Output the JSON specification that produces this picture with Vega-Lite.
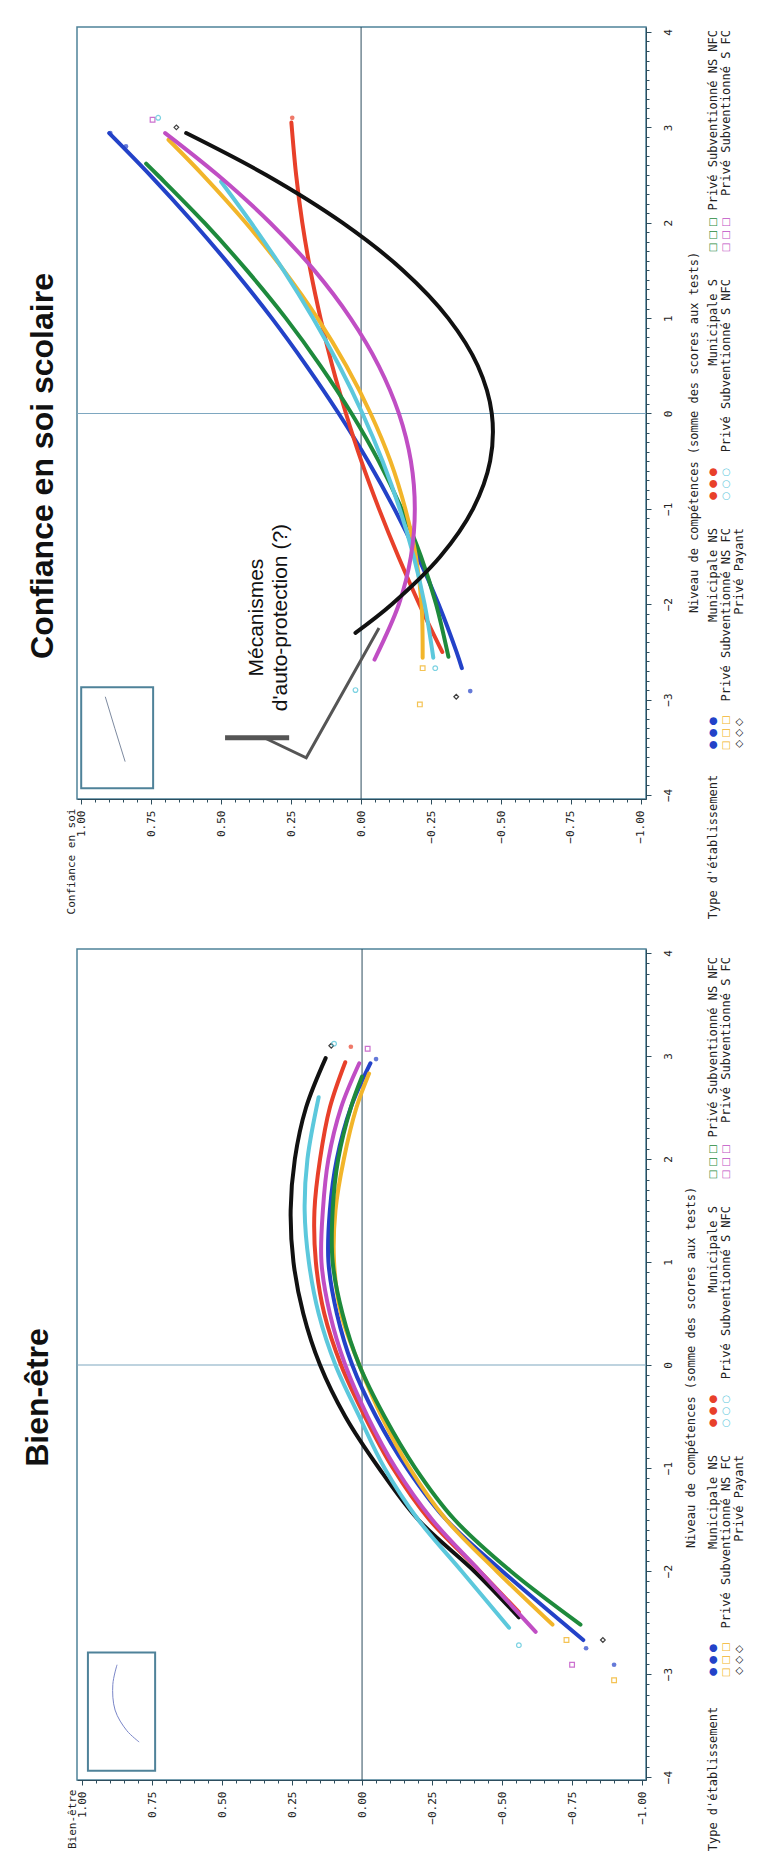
{
  "$schema": "https://vega.github.io/schema/vega-lite/v6.json",
  "autosize": {"type": "none"},
  "padding": {"left": 77, "top": 27, "right": 690, "bottom": 1836},
  "background": "white",
  "config": {
    "view": {"stroke": "#4f8299", "strokeWidth": 1.5},
    "axis": {"grid": false, "domainColor": "#2d4d5d", "tickColor": "#2d4d5d", "labelColor": "#222222", "titleColor": "#222222", "labelFont": "DejaVu Sans Mono", "titleFont": "DejaVu Sans Mono", "labelFontSize": 11, "titleFontSize": 12, "titleFontWeight": "normal", "labelOverlap": false, "labelFlush": false, "labelBound": false},
    "title": {"font": "Liberation Sans", "fontWeight": "bold", "fontSize": 32, "color": "#111111"}
  },
  "datasets": {
    "conf": [
      {"g":"Municipale NS","n":2.94,"v":0.9},{"g":"Municipale NS","n":2.5,"v":0.754},{"g":"Municipale NS","n":2,"v":0.599},{"g":"Municipale NS","n":1.5,"v":0.454},{"g":"Municipale NS","n":1,"v":0.319},{"g":"Municipale NS","n":0.5,"v":0.195},{"g":"Municipale NS","n":0,"v":0.08},{"g":"Municipale NS","n":-0.5,"v":-0.025},{"g":"Municipale NS","n":-1,"v":-0.119},{"g":"Municipale NS","n":-1.5,"v":-0.203},{"g":"Municipale NS","n":-2,"v":-0.277},{"g":"Municipale NS","n":-2.5,"v":-0.341},{"g":"Municipale NS","n":-2.67,"v":-0.36},
      {"g":"Municipale S","n":3.05,"v":0.249},{"g":"Municipale S","n":2.5,"v":0.232},{"g":"Municipale S","n":2,"v":0.21},{"g":"Municipale S","n":1.5,"v":0.181},{"g":"Municipale S","n":1,"v":0.145},{"g":"Municipale S","n":0.5,"v":0.103},{"g":"Municipale S","n":0,"v":0.054},{"g":"Municipale S","n":-0.5,"v":-0.001},{"g":"Municipale S","n":-1,"v":-0.064},{"g":"Municipale S","n":-1.5,"v":-0.133},{"g":"Municipale S","n":-2,"v":-0.208},{"g":"Municipale S","n":-2.5,"v":-0.29},
      {"g":"Privé Subventionné NS NFC","n":2.62,"v":0.768},{"g":"Privé Subventionné NS NFC","n":2.5,"v":0.727},{"g":"Privé Subventionné NS NFC","n":2,"v":0.56},{"g":"Privé Subventionné NS NFC","n":1.5,"v":0.408},{"g":"Privé Subventionné NS NFC","n":1,"v":0.269},{"g":"Privé Subventionné NS NFC","n":0.5,"v":0.145},{"g":"Privé Subventionné NS NFC","n":0,"v":0.034},{"g":"Privé Subventionné NS NFC","n":-0.5,"v":-0.063},{"g":"Privé Subventionné NS NFC","n":-1,"v":-0.145},{"g":"Privé Subventionné NS NFC","n":-1.5,"v":-0.214},{"g":"Privé Subventionné NS NFC","n":-2,"v":-0.268},{"g":"Privé Subventionné NS NFC","n":-2.55,"v":-0.312},
      {"g":"Privé Subventionné NS FC","n":2.87,"v":0.688},{"g":"Privé Subventionné NS FC","n":2.5,"v":0.565},{"g":"Privé Subventionné NS FC","n":2,"v":0.412},{"g":"Privé Subventionné NS FC","n":1.5,"v":0.276},{"g":"Privé Subventionné NS FC","n":1,"v":0.156},{"g":"Privé Subventionné NS FC","n":0.5,"v":0.053},{"g":"Privé Subventionné NS FC","n":0,"v":-0.034},{"g":"Privé Subventionné NS FC","n":-0.5,"v":-0.105},{"g":"Privé Subventionné NS FC","n":-1,"v":-0.158},{"g":"Privé Subventionné NS FC","n":-1.5,"v":-0.196},{"g":"Privé Subventionné NS FC","n":-2,"v":-0.216},{"g":"Privé Subventionné NS FC","n":-2.56,"v":-0.22},
      {"g":"Privé Subventionné S NFC","n":2.43,"v":0.5},{"g":"Privé Subventionné S NFC","n":2,"v":0.393},{"g":"Privé Subventionné S NFC","n":1.5,"v":0.277},{"g":"Privé Subventionné S NFC","n":1,"v":0.172},{"g":"Privé Subventionné S NFC","n":0.5,"v":0.078},{"g":"Privé Subventionné S NFC","n":0,"v":-0.005},{"g":"Privé Subventionné S NFC","n":-0.5,"v":-0.077},{"g":"Privé Subventionné S NFC","n":-1,"v":-0.138},{"g":"Privé Subventionné S NFC","n":-1.5,"v":-0.188},{"g":"Privé Subventionné S NFC","n":-2,"v":-0.227},{"g":"Privé Subventionné S NFC","n":-2.56,"v":-0.258},
      {"g":"Privé Subventionné S FC","n":2.94,"v":0.7},{"g":"Privé Subventionné S FC","n":2.5,"v":0.512},{"g":"Privé Subventionné S FC","n":2,"v":0.325},{"g":"Privé Subventionné S FC","n":1.5,"v":0.167},{"g":"Privé Subventionné S FC","n":1,"v":0.038},{"g":"Privé Subventionné S FC","n":0.5,"v":-0.063},{"g":"Privé Subventionné S FC","n":0,"v":-0.135},{"g":"Privé Subventionné S FC","n":-0.5,"v":-0.178},{"g":"Privé Subventionné S FC","n":-1,"v":-0.192},{"g":"Privé Subventionné S FC","n":-1.5,"v":-0.178},{"g":"Privé Subventionné S FC","n":-2,"v":-0.135},{"g":"Privé Subventionné S FC","n":-2.58,"v":-0.048},
      {"g":"Privé Payant","n":2.94,"v":0.625},{"g":"Privé Payant","n":2.5,"v":0.339},{"g":"Privé Payant","n":2,"v":0.067},{"g":"Privé Payant","n":1.5,"v":-0.15},{"g":"Privé Payant","n":1,"v":-0.311},{"g":"Privé Payant","n":0.5,"v":-0.417},{"g":"Privé Payant","n":0,"v":-0.467},{"g":"Privé Payant","n":-0.5,"v":-0.461},{"g":"Privé Payant","n":-1,"v":-0.4},{"g":"Privé Payant","n":-1.5,"v":-0.283},{"g":"Privé Payant","n":-2,"v":-0.11},{"g":"Privé Payant","n":-2.3,"v":0.02}
    ],
    "bien": [
      {"g":"Privé Payant","n":2.98,"v":0.13},{"g":"Privé Payant","n":2.5,"v":0.2},{"g":"Privé Payant","n":2,"v":0.24},{"g":"Privé Payant","n":1.5,"v":0.255},{"g":"Privé Payant","n":1,"v":0.245},{"g":"Privé Payant","n":0.5,"v":0.21},{"g":"Privé Payant","n":0,"v":0.15},{"g":"Privé Payant","n":-0.5,"v":0.06},{"g":"Privé Payant","n":-1,"v":-0.06},{"g":"Privé Payant","n":-1.5,"v":-0.2},{"g":"Privé Payant","n":-2,"v":-0.4},{"g":"Privé Payant","n":-2.45,"v":-0.56},
      {"g":"Privé Subventionné S NFC","n":2.6,"v":0.155},{"g":"Privé Subventionné S NFC","n":2,"v":0.195},{"g":"Privé Subventionné S NFC","n":1.5,"v":0.205},{"g":"Privé Subventionné S NFC","n":1,"v":0.19},{"g":"Privé Subventionné S NFC","n":0.5,"v":0.155},{"g":"Privé Subventionné S NFC","n":0,"v":0.095},{"g":"Privé Subventionné S NFC","n":-0.5,"v":0.01},{"g":"Privé Subventionné S NFC","n":-1,"v":-0.08},{"g":"Privé Subventionné S NFC","n":-1.5,"v":-0.2},{"g":"Privé Subventionné S NFC","n":-2,"v":-0.355},{"g":"Privé Subventionné S NFC","n":-2.55,"v":-0.525},
      {"g":"Municipale S","n":2.94,"v":0.06},{"g":"Municipale S","n":2.5,"v":0.115},{"g":"Municipale S","n":2,"v":0.15},{"g":"Municipale S","n":1.5,"v":0.17},{"g":"Municipale S","n":1,"v":0.165},{"g":"Municipale S","n":0.5,"v":0.135},{"g":"Municipale S","n":0,"v":0.075},{"g":"Municipale S","n":-0.5,"v":-0.01},{"g":"Municipale S","n":-1,"v":-0.11},{"g":"Municipale S","n":-1.5,"v":-0.24},{"g":"Municipale S","n":-2,"v":-0.42},{"g":"Municipale S","n":-2.4,"v":-0.56},
      {"g":"Privé Subventionné S FC","n":2.93,"v":0.01},{"g":"Privé Subventionné S FC","n":2.5,"v":0.075},{"g":"Privé Subventionné S FC","n":2,"v":0.12},{"g":"Privé Subventionné S FC","n":1.5,"v":0.14},{"g":"Privé Subventionné S FC","n":1,"v":0.145},{"g":"Privé Subventionné S FC","n":0.5,"v":0.115},{"g":"Privé Subventionné S FC","n":0,"v":0.06},{"g":"Privé Subventionné S FC","n":-0.5,"v":-0.02},{"g":"Privé Subventionné S FC","n":-1,"v":-0.12},{"g":"Privé Subventionné S FC","n":-1.5,"v":-0.25},{"g":"Privé Subventionné S FC","n":-2,"v":-0.42},{"g":"Privé Subventionné S FC","n":-2.59,"v":-0.62},
      {"g":"Municipale NS","n":2.93,"v":-0.03},{"g":"Municipale NS","n":2.5,"v":0.04},{"g":"Municipale NS","n":2,"v":0.09},{"g":"Municipale NS","n":1.5,"v":0.115},{"g":"Municipale NS","n":1,"v":0.12},{"g":"Municipale NS","n":0.5,"v":0.09},{"g":"Municipale NS","n":0,"v":0.035},{"g":"Municipale NS","n":-0.5,"v":-0.05},{"g":"Municipale NS","n":-1,"v":-0.16},{"g":"Municipale NS","n":-1.5,"v":-0.3},{"g":"Municipale NS","n":-2,"v":-0.5},{"g":"Municipale NS","n":-2.67,"v":-0.79},
      {"g":"Privé Subventionné NS FC","n":2.83,"v":-0.025},{"g":"Privé Subventionné NS FC","n":2.5,"v":0.02},{"g":"Privé Subventionné NS FC","n":2,"v":0.065},{"g":"Privé Subventionné NS FC","n":1.5,"v":0.095},{"g":"Privé Subventionné NS FC","n":1,"v":0.1},{"g":"Privé Subventionné NS FC","n":0.5,"v":0.075},{"g":"Privé Subventionné NS FC","n":0,"v":0.01},{"g":"Privé Subventionné NS FC","n":-0.5,"v":-0.07},{"g":"Privé Subventionné NS FC","n":-1,"v":-0.17},{"g":"Privé Subventionné NS FC","n":-1.5,"v":-0.3},{"g":"Privé Subventionné NS FC","n":-2,"v":-0.48},{"g":"Privé Subventionné NS FC","n":-2.52,"v":-0.68},
      {"g":"Privé Subventionné NS NFC","n":2.8,"v":0},{"g":"Privé Subventionné NS NFC","n":2.5,"v":0.04},{"g":"Privé Subventionné NS NFC","n":2,"v":0.085},{"g":"Privé Subventionné NS NFC","n":1.5,"v":0.105},{"g":"Privé Subventionné NS NFC","n":1,"v":0.105},{"g":"Privé Subventionné NS NFC","n":0.5,"v":0.07},{"g":"Privé Subventionné NS NFC","n":0,"v":0.01},{"g":"Privé Subventionné NS NFC","n":-0.5,"v":-0.08},{"g":"Privé Subventionné NS NFC","n":-1,"v":-0.19},{"g":"Privé Subventionné NS NFC","n":-1.5,"v":-0.33},{"g":"Privé Subventionné NS NFC","n":-2,"v":-0.53},{"g":"Privé Subventionné NS NFC","n":-2.52,"v":-0.78}
    ],
    "confPts": [
      {"g":"Municipale NS","n":2.94,"v":0.896},{"g":"Municipale NS","n":2.8,"v":0.84},{"g":"Municipale NS","n":-2.91,"v":-0.39},
      {"g":"Municipale S","n":3.1,"v":0.246},
      {"g":"Privé Subventionné S FC","n":3.08,"v":0.745},{"g":"Privé Subventionné S NFC","n":3.1,"v":0.725},
      {"g":"Privé Payant","n":3.0,"v":0.66},{"g":"Privé Payant","n":-2.97,"v":-0.34},
      {"g":"Privé Subventionné NS FC","n":-3.05,"v":-0.21},{"g":"Privé Subventionné NS FC","n":-2.67,"v":-0.22},
      {"g":"Privé Subventionné S NFC","n":-2.9,"v":0.02},{"g":"Privé Subventionné S NFC","n":-2.67,"v":-0.265}
    ],
    "bienPts": [
      {"g":"Privé Payant","n":3.1,"v":0.11},{"g":"Privé Subventionné S NFC","n":3.12,"v":0.1},{"g":"Municipale S","n":3.09,"v":0.04},{"g":"Privé Subventionné S FC","n":3.07,"v":-0.02},{"g":"Municipale NS","n":2.97,"v":-0.05},
      {"g":"Privé Payant","n":-2.67,"v":-0.86},{"g":"Privé Subventionné S FC","n":-2.91,"v":-0.75},{"g":"Municipale NS","n":-2.91,"v":-0.9},{"g":"Privé Subventionné NS FC","n":-3.06,"v":-0.9},{"g":"Privé Subventionné NS FC","n":-2.67,"v":-0.73},{"g":"Privé Subventionné S NFC","n":-2.72,"v":-0.56},{"g":"Municipale NS","n":-2.75,"v":-0.8}
    ],
    "callout": [
      {"s":"bar","i":1,"n":-3.4,"v":0.486},{"s":"bar","i":2,"n":-3.4,"v":0.257},
      {"s":"arrow","i":1,"n":-3.4,"v":0.346},{"s":"arrow","i":2,"n":-3.61,"v":0.196},{"s":"arrow","i":3,"n":-2.25,"v":-0.064}
    ],
    "leg": [
      {"g":"Municipale NS","row":1,"col":1,"glyph":"● ● ●"},
      {"g":"Municipale S","row":1,"col":2,"glyph":"● ● ●"},
      {"g":"Privé Subventionné NS NFC","row":1,"col":3,"glyph":"□ □ □"},
      {"g":"Privé Subventionné NS FC","row":2,"col":1,"glyph":"□ □ □"},
      {"g":"Privé Subventionné S NFC","row":2,"col":2,"glyph":"○ ○ ○"},
      {"g":"Privé Subventionné S FC","row":2,"col":3,"glyph":"□ □ □"},
      {"g":"Privé Payant","row":3,"col":1,"glyph":"◇ ◇ ◇"}
    ]
  },
  "columns": 2,
  "spacing": {"row": 150, "column": 54},
  "bounds": "flush",
  "concat": [
        {
          "width": 569,
          "height": 772,
          "title": {"text": "Confiance en soi scolaire", "orient": "left", "frame": "group", "anchor": "middle", "offset": 17, "baseline": "alphabetic", "dx": -53, "dy": 37},
          "resolve": {"axis": {"x": "independent", "y": "independent"}},
          "layer": [
            {
              "data": {"values": [{"v1": 1.0, "v2": 0.743, "n1": -2.87, "n2": -3.93}]},
              "mark": {"type": "rect", "fill": "white", "stroke": "#4f8299", "strokeWidth": 2},
              "encoding": {
                "x": {"field": "v1", "type": "quantitative", "scale": {"domain": [-1.018, 1.015], "reverse": true, "nice": false, "zero": false},
                  "axis": {"orient": "bottom", "title": "Confiance en soi", "values": [-1,-0.75,-0.5,-0.25,0,0.25,0.5,0.75,1],
                    "format": ".2f", "tickSize": 5, "labelOverlap": false,
                    "labelAngle": 270, "labelAlign": "right", "labelBaseline": "middle", "labelPadding": 6,
                    "titleAngle": 270, "titleAlign": "right", "titleBaseline": "middle", "titleX": -6, "titleY": 9, "titleFontSize": 11}},
                "x2": {"field": "v2"},
                "y": {"field": "n1", "type": "quantitative", "scale": {"domain": [-4.042, 4.052], "nice": false, "zero": false},
                  "axis": {"orient": "right", "title": "Niveau de compétences (somme des scores aux tests)",
                    "values": [-4,-3,-2,-1,0,1,2,3,4], "format": "d", "tickSize": 5, "labelOverlap": false,
                    "labelAngle": 270, "labelAlign": "center", "labelBaseline": "top", "labelPadding": 11,
                    "titleAngle": 270, "titleAlign": "center", "titleBaseline": "middle", "titleX": 47, "titleY": 405}},
                "y2": {"field": "n2"}
              }
            },
            {
              "data": {"values": [{"i":1,"n":-2.97,"v":0.914},{"i":2,"n":-3.3,"v":0.88},{"i":3,"n":-3.65,"v":0.843}]},
              "mark": {"type": "line", "color": "#7d8aa0", "strokeWidth": 1},
              "encoding": {"x": {"field": "v", "type": "quantitative", "scale": {"domain": [-1.018, 1.015], "reverse": true, "nice": false, "zero": false}, "axis": null}, "y": {"field": "n", "type": "quantitative", "scale": {"domain": [-4.042, 4.052], "nice": false, "zero": false}, "axis": null}, "order": {"field": "i"}}
            },
            {
              "data": {"values": [{}]},
              "mark": {"type": "rule", "color": "#2d4d5d", "strokeWidth": 1},
              "encoding": {"x": {"datum": 0, "type": "quantitative", "scale": {"domain": [-1.018, 1.015], "reverse": true, "nice": false, "zero": false},
                "axis": {"orient": "bottom", "title": null, "labels": false, "domain": false, "tickSize": 3, "values": [-1,-0.95,-0.9,-0.85,-0.8,-0.75,-0.7,-0.65,-0.6,-0.55,-0.5,-0.45,-0.4,-0.35,-0.3,-0.25,-0.2,-0.15,-0.1,-0.05,0,0.05,0.1,0.15,0.2,0.25,0.3,0.35,0.4,0.45,0.5,0.55,0.6,0.65,0.7,0.75,0.8,0.85,0.9,0.95,1]}}}
            },
            {
              "data": {"values": [{}]},
              "mark": {"type": "rule", "color": "#7ea7c0", "strokeWidth": 1.2},
              "encoding": {"y": {"datum": 0, "type": "quantitative", "scale": {"domain": [-4.042, 4.052], "nice": false, "zero": false},
                "axis": {"orient": "right", "title": null, "labels": false, "domain": false, "tickSize": 3, "values": [-4,-3.9,-3.8,-3.7,-3.6,-3.5,-3.4,-3.3,-3.2,-3.1,-3,-2.9,-2.8,-2.7,-2.6,-2.5,-2.4,-2.3,-2.2,-2.1,-2,-1.9,-1.8,-1.7,-1.6,-1.5,-1.4,-1.3,-1.2,-1.1,-1,-0.9,-0.8,-0.7,-0.6,-0.5,-0.4,-0.3,-0.2,-0.1,0,0.1,0.2,0.3,0.4,0.5,0.6,0.7,0.8,0.9,1,1.1,1.2,1.3,1.4,1.5,1.6,1.7,1.8,1.9,2,2.1,2.2,2.3,2.4,2.5,2.6,2.7,2.8,2.9,3,3.1,3.2,3.3,3.4,3.5,3.6,3.7,3.8,3.9,4]}}}
            },
            {
              "data": {"name": "conf"},
              "mark": {"type": "line", "strokeWidth": 4, "interpolate": "catmull-rom", "strokeCap": "round"},
              "encoding": {
                "x": {"field": "v", "type": "quantitative", "scale": {"domain": [-1.018, 1.015], "reverse": true, "nice": false, "zero": false}, "axis": null},
                "y": {"field": "n", "type": "quantitative", "scale": {"domain": [-4.042, 4.052], "nice": false, "zero": false}, "axis": null},
                "color": {"field": "g", "type": "nominal", "legend": null, "scale": {"domain": ["Municipale NS","Municipale S","Privé Subventionné NS NFC","Privé Subventionné NS FC","Privé Subventionné S NFC","Privé Subventionné S FC","Privé Payant"], "range": ["#2342c8","#e8402a","#1e8a3c","#f2b52a","#5cc8dc","#c04ec4","#111111"]}},
                "order": {"field": "n", "type": "quantitative"}
              }
            },
            {
              "data": {"name": "confPts"},
              "transform": [{"filter": "indexof(datum.g,'Municipale')==0"}],
              "mark": {"type": "point", "filled": true, "size": 22, "shape": "circle"},
              "encoding": {
                "x": {"field": "v", "type": "quantitative", "scale": {"domain": [-1.018, 1.015], "reverse": true, "nice": false, "zero": false}, "axis": null},
                "y": {"field": "n", "type": "quantitative", "scale": {"domain": [-4.042, 4.052], "nice": false, "zero": false}, "axis": null},
                "color": {"field": "g", "type": "nominal", "legend": null, "scale": {"domain": ["Municipale NS","Municipale S","Privé Subventionné NS NFC","Privé Subventionné NS FC","Privé Subventionné S NFC","Privé Subventionné S FC","Privé Payant"], "range": ["#2342c8","#e8402a","#1e8a3c","#f2b52a","#5cc8dc","#c04ec4","#111111"]}}
              }
            },
            {
              "data": {"name": "confPts"},
              "transform": [{"filter": "indexof(datum.g,'Municipale')!=0"}],
              "mark": {"type": "point", "filled": false, "size": 22, "strokeWidth": 1.2, "opacity": 0.8},
              "encoding": {
                "x": {"field": "v", "type": "quantitative", "scale": {"domain": [-1.018, 1.015], "reverse": true, "nice": false, "zero": false}, "axis": null},
                "y": {"field": "n", "type": "quantitative", "scale": {"domain": [-4.042, 4.052], "nice": false, "zero": false}, "axis": null},
                "shape": {"field": "g", "type": "nominal", "legend": null, "scale": {"domain": ["Privé Subventionné NS NFC","Privé Subventionné NS FC","Privé Subventionné S NFC","Privé Subventionné S FC","Privé Payant"], "range": ["square","square","circle","square","diamond"]}},
                "color": {"field": "g", "type": "nominal", "legend": null, "scale": {"domain": ["Municipale NS","Municipale S","Privé Subventionné NS NFC","Privé Subventionné NS FC","Privé Subventionné S NFC","Privé Subventionné S FC","Privé Payant"], "range": ["#2342c8","#e8402a","#1e8a3c","#f2b52a","#5cc8dc","#c04ec4","#111111"]}}
              }
            },
            {
              "data": {"name": "callout"},
              "transform": [{"filter": "datum.s=='bar'"}],
              "mark": {"type": "line", "color": "#555555", "strokeWidth": 5},
              "encoding": {
                "x": {"field": "v", "type": "quantitative", "scale": {"domain": [-1.018, 1.015], "reverse": true, "nice": false, "zero": false}, "axis": null},
                "y": {"field": "n", "type": "quantitative", "scale": {"domain": [-4.042, 4.052], "nice": false, "zero": false}, "axis": null},
                "order": {"field": "i"}
              }
            },
            {
              "data": {"name": "callout"},
              "transform": [{"filter": "datum.s=='arrow'"}],
              "mark": {"type": "line", "color": "#555555", "strokeWidth": 3},
              "encoding": {
                "x": {"field": "v", "type": "quantitative", "scale": {"domain": [-1.018, 1.015], "reverse": true, "nice": false, "zero": false}, "axis": null},
                "y": {"field": "n", "type": "quantitative", "scale": {"domain": [-4.042, 4.052], "nice": false, "zero": false}, "axis": null},
                "order": {"field": "i"}
              }
            },
            {
              "data": {"values": [{"v": 0.371, "n": -2.14, "t": ["Mécanismes", "d'auto-protection (?)"]}]},
              "mark": {"type": "text", "angle": 270, "align": "center", "baseline": "middle", "font": "Liberation Sans", "fontSize": 21, "lineHeight": 24, "color": "#111111"},
              "encoding": {
                "x": {"field": "v", "type": "quantitative", "scale": {"domain": [-1.018, 1.015], "reverse": true, "nice": false, "zero": false}, "axis": null},
                "y": {"field": "n", "type": "quantitative", "scale": {"domain": [-4.042, 4.052], "nice": false, "zero": false}, "axis": null},
                "text": {"field": "t"}
              }
            }
          ]
        },
        {
          "width": 39,
          "height": 772,
          "view": {"stroke": null},
          "data": {"name": "leg"},
          "layer": [
            {
              "mark": {"type": "text", "angle": 270, "align": "center", "baseline": "middle", "font": "DejaVu Sans", "fontSize": 10},
              "encoding": {
                "x": {"field": "row", "type": "quantitative", "scale": {"domain": [0, 3], "nice": false, "zero": false}, "axis": null},
                "y": {"field": "col", "type": "quantitative", "scale": {"domain": [0.735, 3.835], "nice": false, "zero": false}, "axis": null},
                "text": {"field": "glyph"},
                "color": {"field": "g", "type": "nominal", "legend": null, "scale": {"domain": ["Municipale NS","Municipale S","Privé Subventionné NS NFC","Privé Subventionné NS FC","Privé Subventionné S NFC","Privé Subventionné S FC","Privé Payant"], "range": ["#2342c8","#e8402a","#1e8a3c","#f2b52a","#5cc8dc","#c04ec4","#111111"]}}
              }
            },
            {
              "mark": {"type": "text", "angle": 270, "align": "right", "baseline": "middle", "dx": 205, "font": "DejaVu Sans Mono", "fontSize": 12, "color": "#222222"},
              "encoding": {
                "x": {"field": "row", "type": "quantitative", "scale": {"domain": [0, 3], "nice": false, "zero": false}, "axis": null},
                "y": {"field": "col", "type": "quantitative", "scale": {"domain": [0.735, 3.835], "nice": false, "zero": false}, "axis": null},
                "text": {"field": "g"}
              }
            },
            {
              "data": {"values": [{"row": 1, "col": 0}]},
              "mark": {"type": "text", "angle": 270, "align": "center", "baseline": "middle", "dx": 135, "font": "DejaVu Sans Mono", "fontSize": 12, "color": "#222222"},
              "encoding": {
                "x": {"field": "row", "type": "quantitative", "scale": {"domain": [0, 3], "nice": false, "zero": false}, "axis": null},
                "y": {"field": "col", "type": "quantitative", "scale": {"domain": [0.735, 3.835], "nice": false, "zero": false}, "axis": null},
                "text": {"value": "Type d'établissement"}
              }
            }
          ]
        },
        {
          "width": 569,
          "height": 831,
          "title": {"text": "Bien-être", "orient": "left", "frame": "group", "anchor": "middle", "offset": 23, "baseline": "alphabetic", "dx": -33, "dy": 37},
          "resolve": {"axis": {"x": "independent", "y": "independent"}},
          "layer": [
            {
              "data": {"values": [{"v1": 0.979, "v2": 0.739, "n1": -2.79, "n2": -3.94}]},
              "mark": {"type": "rect", "fill": "white", "stroke": "#4f8299", "strokeWidth": 2},
              "encoding": {
                "x": {"field": "v1", "type": "quantitative", "scale": {"domain": [-1.014, 1.018], "reverse": true, "nice": false, "zero": false},
                  "axis": {"orient": "bottom", "title": "Bien-être", "values": [-1,-0.75,-0.5,-0.25,0,0.25,0.5,0.75,1],
                    "format": ".2f", "tickSize": 5, "labelOverlap": false,
                    "labelAngle": 270, "labelAlign": "right", "labelBaseline": "middle", "labelPadding": 6,
                    "titleAngle": 270, "titleAlign": "right", "titleBaseline": "middle", "titleX": -5, "titleY": 9, "titleFontSize": 11}},
                "x2": {"field": "v2"},
                "y": {"field": "n1", "type": "quantitative", "scale": {"domain": [-4.029, 4.039], "nice": false, "zero": false},
                  "axis": {"orient": "right", "title": "Niveau de compétences (somme des scores aux tests)",
                    "values": [-4,-3,-2,-1,0,1,2,3,4], "format": "d", "tickSize": 5, "labelOverlap": false,
                    "labelAngle": 270, "labelAlign": "center", "labelBaseline": "top", "labelPadding": 11,
                    "titleAngle": 270, "titleAlign": "center", "titleBaseline": "middle", "titleX": 44, "titleY": 418}},
                "y2": {"field": "n2"}
              }
            },
            {
              "data": {"values": [{"i":1,"n":-2.91,"v":0.875},{"i":2,"n":-3.1,"v":0.89},{"i":3,"n":-3.35,"v":0.882},{"i":4,"n":-3.55,"v":0.84},{"i":5,"n":-3.66,"v":0.796}]},
              "mark": {"type": "line", "color": "#7a86c8", "strokeWidth": 1, "interpolate": "catmull-rom"},
              "encoding": {"x": {"field": "v", "type": "quantitative", "scale": {"domain": [-1.014, 1.018], "reverse": true, "nice": false, "zero": false}, "axis": null}, "y": {"field": "n", "type": "quantitative", "scale": {"domain": [-4.029, 4.039], "nice": false, "zero": false}, "axis": null}, "order": {"field": "i"}}
            },
            {
              "data": {"values": [{}]},
              "mark": {"type": "rule", "color": "#2d4d5d", "strokeWidth": 1},
              "encoding": {"x": {"datum": 0, "type": "quantitative", "scale": {"domain": [-1.014, 1.018], "reverse": true, "nice": false, "zero": false},
                "axis": {"orient": "bottom", "title": null, "labels": false, "domain": false, "tickSize": 3, "values": [-1,-0.95,-0.9,-0.85,-0.8,-0.75,-0.7,-0.65,-0.6,-0.55,-0.5,-0.45,-0.4,-0.35,-0.3,-0.25,-0.2,-0.15,-0.1,-0.05,0,0.05,0.1,0.15,0.2,0.25,0.3,0.35,0.4,0.45,0.5,0.55,0.6,0.65,0.7,0.75,0.8,0.85,0.9,0.95,1]}}}
            },
            {
              "data": {"values": [{}]},
              "mark": {"type": "rule", "color": "#7ea7c0", "strokeWidth": 1.2},
              "encoding": {"y": {"datum": 0, "type": "quantitative", "scale": {"domain": [-4.029, 4.039], "nice": false, "zero": false},
                "axis": {"orient": "right", "title": null, "labels": false, "domain": false, "tickSize": 3, "values": [-4,-3.9,-3.8,-3.7,-3.6,-3.5,-3.4,-3.3,-3.2,-3.1,-3,-2.9,-2.8,-2.7,-2.6,-2.5,-2.4,-2.3,-2.2,-2.1,-2,-1.9,-1.8,-1.7,-1.6,-1.5,-1.4,-1.3,-1.2,-1.1,-1,-0.9,-0.8,-0.7,-0.6,-0.5,-0.4,-0.3,-0.2,-0.1,0,0.1,0.2,0.3,0.4,0.5,0.6,0.7,0.8,0.9,1,1.1,1.2,1.3,1.4,1.5,1.6,1.7,1.8,1.9,2,2.1,2.2,2.3,2.4,2.5,2.6,2.7,2.8,2.9,3,3.1,3.2,3.3,3.4,3.5,3.6,3.7,3.8,3.9,4]}}}
            },
            {
              "data": {"name": "bien"},
              "mark": {"type": "line", "strokeWidth": 4, "interpolate": "catmull-rom", "strokeCap": "round"},
              "encoding": {
                "x": {"field": "v", "type": "quantitative", "scale": {"domain": [-1.014, 1.018], "reverse": true, "nice": false, "zero": false}, "axis": null},
                "y": {"field": "n", "type": "quantitative", "scale": {"domain": [-4.029, 4.039], "nice": false, "zero": false}, "axis": null},
                "color": {"field": "g", "type": "nominal", "legend": null, "scale": {"domain": ["Municipale NS","Municipale S","Privé Subventionné NS NFC","Privé Subventionné NS FC","Privé Subventionné S NFC","Privé Subventionné S FC","Privé Payant"], "range": ["#2342c8","#e8402a","#1e8a3c","#f2b52a","#5cc8dc","#c04ec4","#111111"]}},
                "order": {"field": "n", "type": "quantitative"}
              }
            },
            {
              "data": {"name": "bienPts"},
              "transform": [{"filter": "indexof(datum.g,'Municipale')==0"}],
              "mark": {"type": "point", "filled": true, "size": 22, "shape": "circle"},
              "encoding": {
                "x": {"field": "v", "type": "quantitative", "scale": {"domain": [-1.014, 1.018], "reverse": true, "nice": false, "zero": false}, "axis": null},
                "y": {"field": "n", "type": "quantitative", "scale": {"domain": [-4.029, 4.039], "nice": false, "zero": false}, "axis": null},
                "color": {"field": "g", "type": "nominal", "legend": null, "scale": {"domain": ["Municipale NS","Municipale S","Privé Subventionné NS NFC","Privé Subventionné NS FC","Privé Subventionné S NFC","Privé Subventionné S FC","Privé Payant"], "range": ["#2342c8","#e8402a","#1e8a3c","#f2b52a","#5cc8dc","#c04ec4","#111111"]}}
              }
            },
            {
              "data": {"name": "bienPts"},
              "transform": [{"filter": "indexof(datum.g,'Municipale')!=0"}],
              "mark": {"type": "point", "filled": false, "size": 22, "strokeWidth": 1.2, "opacity": 0.8},
              "encoding": {
                "x": {"field": "v", "type": "quantitative", "scale": {"domain": [-1.014, 1.018], "reverse": true, "nice": false, "zero": false}, "axis": null},
                "y": {"field": "n", "type": "quantitative", "scale": {"domain": [-4.029, 4.039], "nice": false, "zero": false}, "axis": null},
                "shape": {"field": "g", "type": "nominal", "legend": null, "scale": {"domain": ["Privé Subventionné NS NFC","Privé Subventionné NS FC","Privé Subventionné S NFC","Privé Subventionné S FC","Privé Payant"], "range": ["square","square","circle","square","diamond"]}},
                "color": {"field": "g", "type": "nominal", "legend": null, "scale": {"domain": ["Municipale NS","Municipale S","Privé Subventionné NS NFC","Privé Subventionné NS FC","Privé Subventionné S NFC","Privé Subventionné S FC","Privé Payant"], "range": ["#2342c8","#e8402a","#1e8a3c","#f2b52a","#5cc8dc","#c04ec4","#111111"]}}
              }
            }
          ]
        },
        {
          "width": 39,
          "height": 772,
          "view": {"stroke": null},
          "data": {"name": "leg"},
          "layer": [
            {
              "mark": {"type": "text", "angle": 270, "align": "center", "baseline": "middle", "font": "DejaVu Sans", "fontSize": 10},
              "encoding": {
                "x": {"field": "row", "type": "quantitative", "scale": {"domain": [0, 3], "nice": false, "zero": false}, "axis": null},
                "y": {"field": "col", "type": "quantitative", "scale": {"domain": [0.755, 3.855], "nice": false, "zero": false}, "axis": null},
                "text": {"field": "glyph"},
                "color": {"field": "g", "type": "nominal", "legend": null, "scale": {"domain": ["Municipale NS","Municipale S","Privé Subventionné NS NFC","Privé Subventionné NS FC","Privé Subventionné S NFC","Privé Subventionné S FC","Privé Payant"], "range": ["#2342c8","#e8402a","#1e8a3c","#f2b52a","#5cc8dc","#c04ec4","#111111"]}}
              }
            },
            {
              "mark": {"type": "text", "angle": 270, "align": "right", "baseline": "middle", "dx": 205, "font": "DejaVu Sans Mono", "fontSize": 12, "color": "#222222"},
              "encoding": {
                "x": {"field": "row", "type": "quantitative", "scale": {"domain": [0, 3], "nice": false, "zero": false}, "axis": null},
                "y": {"field": "col", "type": "quantitative", "scale": {"domain": [0.755, 3.855], "nice": false, "zero": false}, "axis": null},
                "text": {"field": "g"}
              }
            },
            {
              "data": {"values": [{"row": 1, "col": 0}]},
              "mark": {"type": "text", "angle": 270, "align": "center", "baseline": "middle", "dx": 130, "font": "DejaVu Sans Mono", "fontSize": 12, "color": "#222222"},
              "encoding": {
                "x": {"field": "row", "type": "quantitative", "scale": {"domain": [0, 3], "nice": false, "zero": false}, "axis": null},
                "y": {"field": "col", "type": "quantitative", "scale": {"domain": [0.755, 3.855], "nice": false, "zero": false}, "axis": null},
                "text": {"value": "Type d'établissement"}
              }
            }
          ]
        }
  ]
}
